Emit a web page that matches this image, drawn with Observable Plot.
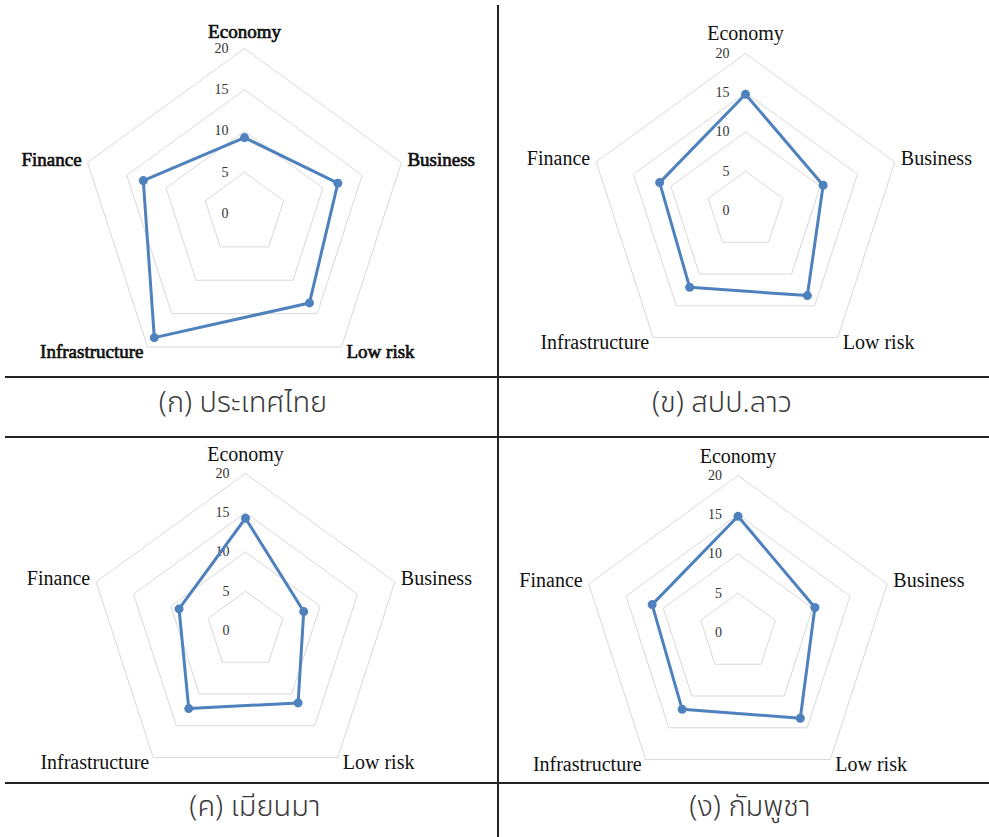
<!DOCTYPE html>
<html><head><meta charset="utf-8">
<script src="https://cdn.jsdelivr.net/npm/d3@7"></script>
<script src="https://cdn.jsdelivr.net/npm/@observablehq/plot@0.6"></script>
<style>
body{margin:0;background:#fff;}
#page{position:relative;width:989px;height:837px;overflow:hidden;background:#fff;}
.hline{position:absolute;left:5px;right:0;height:2px;background:#262324;}
.vline{position:absolute;left:497px;top:5px;bottom:0;width:2px;background:#262324;}
.panel{position:absolute;}
.caption{position:absolute;font-family:"Noto Sans Thai","Noto Sans Thai UI","Leelawadee UI","Noto Sans",sans-serif;font-size:29px;font-weight:300;color:#3a3a3a;transform:translate(-50%,-50%);white-space:nowrap;}
</style></head>
<body><div id="page"></div>
<script>
// ---- data ----
const categories = ["Economy", "Business", "Low risk", "Infrastructure", "Finance"];
const tickValues = [0, 5, 10, 15, 20];
const thailand = [9.2, 11.9, 13.4, 18.6, 12.9];
const laos     = [14.8, 10.4, 13.4, 12.1, 11.5];
const myanmar  = [14.3, 7.8, 11.4, 12.3, 8.9];
const cambodia = [14.8, 10.3, 13.5, 12.1, 11.5];
const captions = ["(ก) ประเทศไทย", "(ข) สปป.ลาว", "(ค) เมียนมา", "(ง) กัมพูชา"];
const seriesList = [thailand, laos, myanmar, cambodia];

// ---- layout (not data) ----
const serif = "Liberation Serif, Times New Roman, DejaVu Serif, serif";
const layout = [
  {left:0,   top:0,   w:497, h:376, cx:244,   cy:213, R:165, bold:true,  fs:19, econDy:-17, capX:243, capY:403},
  {left:499, top:0,   w:490, h:376, cx:246,   cy:210, R:157, bold:false, fs:20, econDy:-20, capX:722, capY:403},
  {left:0,   top:438, w:497, h:344, cx:245,   cy:192, R:157, bold:false, fs:20, econDy:-19, capX:255, capY:807},
  {left:499, top:438, w:490, h:344, cx:238.5, cy:194, R:157, bold:false, fs:20, econDy:-19, capX:750, capY:807}
];
const labelStyle = [
  {anchor:"middle", dx:0,  dy:null},
  {anchor:"start",  dx:6,  dy:-3},
  {anchor:"start",  dx:5,  dy:5},
  {anchor:"end",    dx:-4, dy:5},
  {anchor:"end",    dx:-6, dy:-3}
];

const maxV = d3.max(tickValues);
const n = categories.length;
const ang = i => 2 * Math.PI * i / n;
const pt = (i, r) => ({x: r * Math.sin(ang(i)), y: r * Math.cos(ang(i))});

function radar(values, L) {
  const rings = tickValues.filter(v => v > 0).flatMap(v =>
    d3.range(n + 1).map(i => ({ring: v, ...pt(i % n, v)})));
  const line = d3.range(n + 1).map(i => ({cat: categories[i % n], ...pt(i % n, values[i % n])}));
  const labelMarks = categories.map((c, i) => {
    const s = labelStyle[i];
    const boldOpts = L.bold ? {stroke: "#111", strokeWidth: 0.7, paintOrder: "stroke"} : {};
    return Plot.text([{c, ...pt(i, maxV)}], {
      x: "x", y: "y", text: "c",
      textAnchor: s.anchor, dx: s.dx, dy: s.dy === null ? L.econDy : s.dy,
      fontSize: L.fs, fontFamily: serif, fontWeight: 400, fill: "#111", ...boldOpts
    });
  });
  return Plot.plot({
    width: L.w, height: L.h, margin: 0,
    style: {fontFamily: serif, background: "transparent", overflow: "visible"},
    x: {domain: [-maxV, maxV], range: [L.cx - L.R, L.cx + L.R], axis: null},
    y: {domain: [-maxV, maxV], range: [L.cy + L.R, L.cy - L.R], axis: null},
    marks: [
      Plot.line(rings, {x: "x", y: "y", z: "ring", stroke: "#d9d9d9", strokeWidth: 1}),
      Plot.text(tickValues, {x: () => 0, y: d => d, text: d => String(d), textAnchor: "end", dx: -16, fontSize: 14, fontFamily: serif, fill: "#333"}),
      Plot.line(line, {x: "x", y: "y", stroke: "#4f81bd", strokeWidth: 3, strokeLinejoin: "round"}),
      Plot.dot(line.slice(0, n), {x: "x", y: "y", r: 4.5, fill: "#4f81bd", stroke: "none"}),
      ...labelMarks
    ]
  });
}

const page = document.getElementById("page");
seriesList.forEach((vals, k) => {
  const L = layout[k];
  const div = document.createElement("div");
  div.className = "panel";
  div.style.left = L.left + "px"; div.style.top = L.top + "px";
  div.appendChild(radar(vals, L));
  page.appendChild(div);
  const cap = document.createElement("div");
  cap.className = "caption";
  cap.style.left = L.capX + "px"; cap.style.top = L.capY + "px";
  cap.textContent = captions[k];
  page.appendChild(cap);
});
[376, 436, 782].forEach(y => {
  const h = document.createElement("div");
  h.className = "hline"; h.style.top = y + "px";
  page.appendChild(h);
});
const v = document.createElement("div");
v.className = "vline";
page.appendChild(v);
</script>
</body></html>
